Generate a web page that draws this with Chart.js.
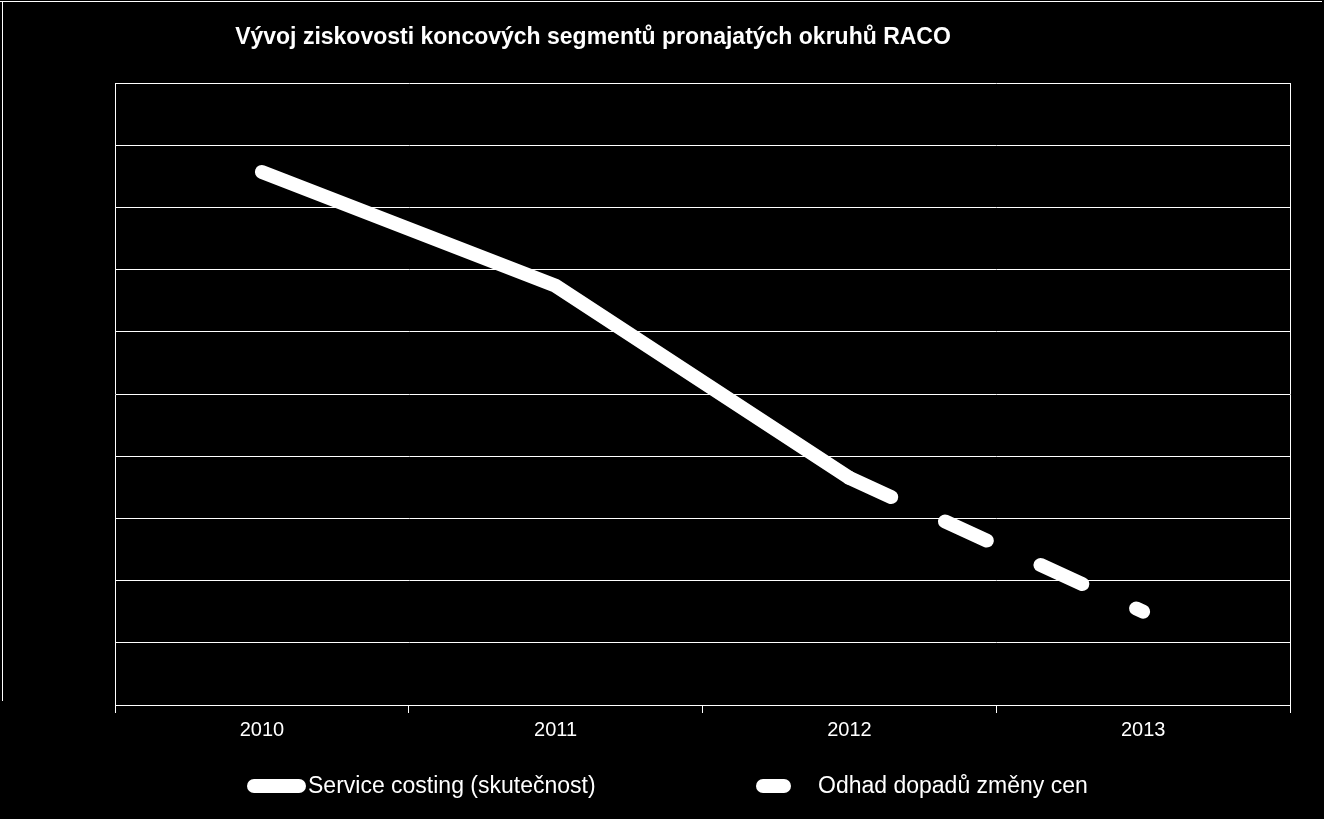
<!DOCTYPE html>
<html>
<head>
<meta charset="utf-8">
<script src="https://cdn.jsdelivr.net/npm/chart.js@4"></script>
<style>
  html, body { margin: 0; padding: 0; background: #000; overflow: hidden; }
  canvas { display: block; }
</style>
</head>
<body>
<canvas id="c" width="1324" height="819"></canvas>
<script>
const chartTitle = 'Vývoj ziskovosti koncových segmentů pronajatých okruhů RACO';
const categories = ['2010', '2011', '2012', '2013'];
const seriesNames = ['Service costing (skutečnost)', 'Odhad dopadů změny cen'];
const actualValues = [8.57, 6.74, 3.65, null];
const estimateValues = [null, null, 3.65, 1.50];
const yMin = 0, yMax = 10, yStep = 1;

const FONT = '"Liberation Sans", Arial, sans-serif';

const decorPlugin = {
  id: 'decor',
  beforeDraw(chart) {
    const ctx = chart.ctx;
    ctx.save();
    ctx.fillStyle = '#000';
    ctx.fillRect(0, 0, chart.width, chart.height);
    ctx.fillStyle = '#fff';
    ctx.fillRect(0, 1, chart.width - 2, 1);
    ctx.fillRect(2, 1, 1, 700);
    ctx.restore();
  },
  afterDraw(chart) {
    const ctx = chart.ctx;
    ctx.save();
    // title
    ctx.fillStyle = '#fff';
    ctx.font = 'bold 23px ' + FONT;
    ctx.textAlign = 'center';
    ctx.textBaseline = 'alphabetic';
    ctx.fillText(chartTitle, 593, 44);
    // legend
    const ly = 786;
    const items = [
      {x0: 254, x1: 299, tx: 308, ds: chart.data.datasets[0]},
      {x0: 763, x1: 784, tx: 818, ds: chart.data.datasets[1]}
    ];
    ctx.font = '23px ' + FONT;
    ctx.textAlign = 'left';
    ctx.textBaseline = 'middle';
    items.forEach(it => {
      ctx.strokeStyle = it.ds.borderColor;
      ctx.lineWidth = it.ds.borderWidth;
      ctx.lineCap = 'round';
      ctx.setLineDash([]);
      ctx.beginPath();
      ctx.moveTo(it.x0, ly);
      ctx.lineTo(it.x1, ly);
      ctx.stroke();
      ctx.fillStyle = '#fff';
      ctx.fillText(it.ds.label, it.tx, ly + 1);
    });
    ctx.restore();
  }
};

new Chart(document.getElementById('c'), {
  type: 'line',
  data: {
    labels: categories,
    datasets: [
      {
        label: seriesNames[0],
        data: actualValues,
        borderColor: '#ffffff',
        borderWidth: 14,
        borderCapStyle: 'round',
        borderJoinStyle: 'miter',
        pointRadius: 0,
        pointHoverRadius: 0,
        fill: false,
        tension: 0,
        spanGaps: false
      },
      {
        label: seriesNames[1],
        data: estimateValues,
        borderColor: '#ffffff',
        borderWidth: 14,
        borderDash: [46, 59],
        borderCapStyle: 'round',
        pointRadius: 0,
        pointHoverRadius: 0,
        fill: false,
        tension: 0,
        spanGaps: false
      }
    ]
  },
  options: {
    responsive: false,
    animation: false,
    devicePixelRatio: 1,
    layout: { padding: { left: 50, right: 34, top: 83, bottom: 69 } },
    plugins: {
      legend: { display: false },
      title: { display: false },
      tooltip: { enabled: false }
    },
    scales: {
      x: {
        offset: true,
        grid: {
          offset: true,
          drawOnChartArea: false,
          drawTicks: true,
          tickLength: 8,
          color: '#ffffff',
          lineWidth: 1
        },
        border: { display: true, color: '#ffffff', width: 1 },
        ticks: {
          color: '#ffffff',
          font: { family: FONT, size: 20 },
          padding: 5,
          maxRotation: 0
        },
        afterFit(scale) { scale.height = 45; }
      },
      y: {
        min: yMin,
        max: yMax,
        ticks: { display: false, stepSize: yStep },
        grid: { color: '#ffffff', lineWidth: 1, drawTicks: false },
        border: { display: true, color: '#ffffff', width: 1 },
        afterFit(scale) { scale.width = 65; }
      },
      yRight: {
        position: 'right',
        min: yMin,
        max: yMax,
        ticks: { display: false },
        grid: { drawOnChartArea: false, drawTicks: false },
        border: { display: true, color: '#ffffff', width: 1 },
        afterFit(scale) { scale.width = 0; }
      }
    }
  },
  plugins: [decorPlugin]
});
</script>
</body>
</html>
